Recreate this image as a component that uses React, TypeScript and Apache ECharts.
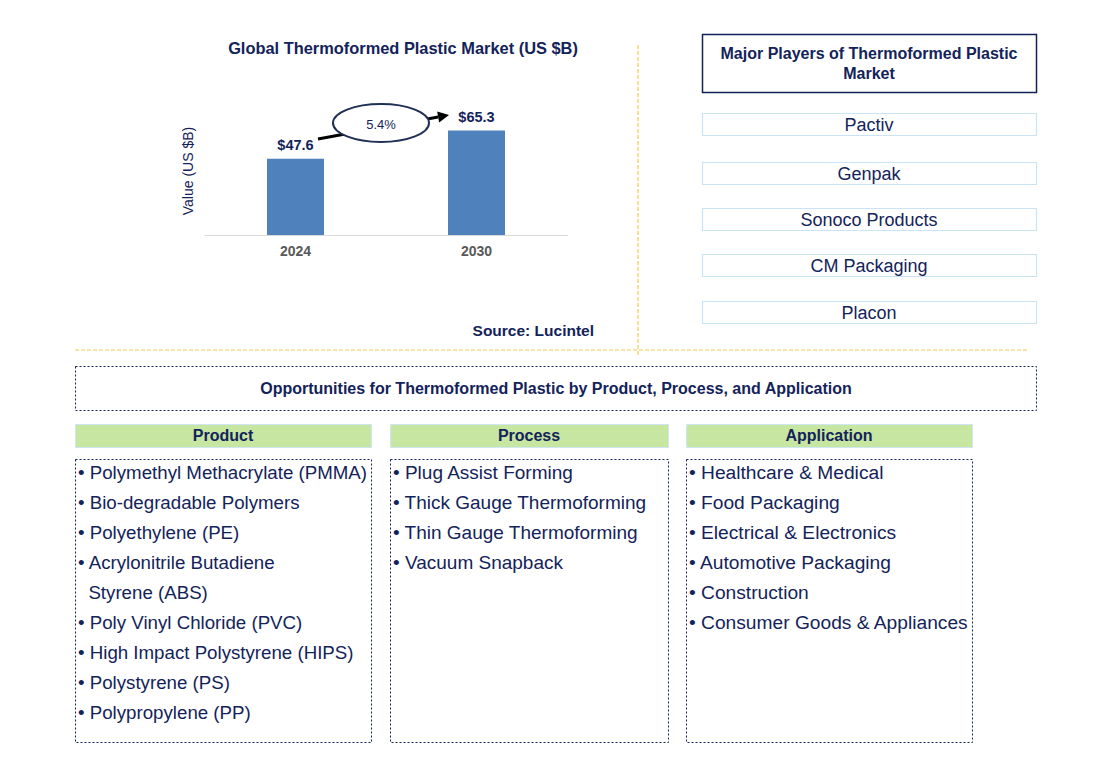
import React, { useEffect, useRef } from "react";
import * as echarts from "echarts";

const years = ["2024", "2030"];
const marketValues = [47.6, 65.3];
const cagrLabel = "5.4%";
const chartTitle = "Global Thermoformed Plastic Market (US $B)";
const yAxisName = "Value (US $B)";
const sourceText = "Source: Lucintel";
const playersTitle = ["Major Players of Thermoformed Plastic", "Market"];
const players = ["Pactiv", "Genpak", "Sonoco Products", "CM Packaging", "Placon"];
const opportunitiesTitle = "Opportunities for Thermoformed Plastic by Product, Process, and Application";
const columnHeaders = ["Product", "Process", "Application"];
const productItems = [
  "• Polymethyl Methacrylate (PMMA)",
  "• Bio-degradable Polymers",
  "• Polyethylene (PE)",
  "• Acrylonitrile Butadiene",
  "  Styrene (ABS)",
  "• Poly Vinyl Chloride (PVC)",
  "• High Impact Polystyrene (HIPS)",
  "• Polystyrene (PS)",
  "• Polypropylene (PP)",
];
const processItems = [
  "• Plug Assist Forming",
  "• Thick Gauge Thermoforming",
  "• Thin Gauge Thermoforming",
  "• Vacuum Snapback",
];
const applicationItems = [
  "• Healthcare & Medical",
  "• Food Packaging",
  "• Electrical & Electronics",
  "• Automotive Packaging",
  "• Construction",
  "• Consumer Goods & Appliances",
];

const NAVY = "#13235a";
const FONT = "Arial, 'Liberation Sans', sans-serif";
const NARROW = "'Liberation Sans Narrow', 'Arial Narrow', Arial, sans-serif";

export default function App() {
  const ref = useRef<HTMLDivElement>(null);
  useEffect(() => {
    if (!ref.current) return;
    const chart = echarts.init(ref.current, undefined, { renderer: "svg" });

    const graphics: any[] = [];
    graphics.push({
      type: "line",
      shape: { x1: 638, y1: 45, x2: 638, y2: 356 },
      style: { stroke: "#f5c02c", lineWidth: 1, lineDash: [4, 2] },
    });
    graphics.push({
      type: "line",
      shape: { x1: 75, y1: 350, x2: 1027, y2: 350 },
      style: { stroke: "#f7c84a", lineWidth: 1, lineDash: [4, 2] },
    });
    const sx = 318, sy = 139, tx = 449, ty = 115;
    const dx = tx - sx, dy = ty - sy;
    const len = Math.sqrt(dx * dx + dy * dy);
    const ux = dx / len, uy = dy / len;
    const bx = tx - ux * 11, by = ty - uy * 11;
    graphics.push({
      type: "line",
      shape: { x1: sx, y1: sy, x2: bx, y2: by },
      style: { stroke: "#000", lineWidth: 3 },
    });
    graphics.push({
      type: "polygon",
      shape: {
        points: [
          [tx, ty],
          [bx - uy * 5.5, by + ux * 5.5],
          [bx + uy * 5.5, by - ux * 5.5],
        ],
      },
      style: { fill: "#000" },
    });
    graphics.push({
      type: "ellipse",
      shape: { cx: 381, cy: 123, rx: 48, ry: 19 },
      style: { fill: "#fff", stroke: "#1f2f55", lineWidth: 2 },
    });
    graphics.push({
      type: "text",
      x: 381,
      y: 124,
      style: { text: cagrLabel, fill: NAVY, font: `13px ${FONT}`, textAlign: "center", textVerticalAlign: "middle" },
    });
    graphics.push({
      type: "text",
      x: 594,
      y: 330,
      style: { text: sourceText, fill: NAVY, font: `bold 15.5px ${FONT}`, textAlign: "right", textVerticalAlign: "middle" },
    });
    graphics.push({
      type: "rect",
      shape: { x: 702.5, y: 34.5, width: 334, height: 58 },
      style: { fill: "#fff", stroke: NAVY, lineWidth: 1.5 },
    });
    graphics.push({
      type: "text",
      x: 869,
      y: 53,
      style: { text: playersTitle[0], fill: NAVY, font: `bold 16px ${FONT}`, textAlign: "center", textVerticalAlign: "middle" },
    });
    graphics.push({
      type: "text",
      x: 869,
      y: 73,
      style: { text: playersTitle[1], fill: NAVY, font: `bold 16px ${FONT}`, textAlign: "center", textVerticalAlign: "middle" },
    });
    const playerY = [113, 162, 208, 254, 301];
    players.forEach((p, i) => {
      graphics.push({
        type: "rect",
        shape: { x: 702.5, y: playerY[i] + 0.5, width: 334, height: 22 },
        style: { fill: "#fff", stroke: "#c8e4f6", lineWidth: 1.2 },
      });
      graphics.push({
        type: "text",
        x: 869,
        y: playerY[i] + 12,
        style: { text: p, fill: NAVY, font: `18px ${FONT}`, textAlign: "center", textVerticalAlign: "middle" },
      });
    });
    graphics.push({
      type: "rect",
      shape: { x: 75.5, y: 366.5, width: 961, height: 44 },
      style: { fill: "#fff", stroke: NAVY, lineWidth: 1, lineDash: [2, 2] },
    });
    graphics.push({
      type: "text",
      x: 556,
      y: 388,
      style: { text: opportunitiesTitle, fill: NAVY, font: `bold 16px ${NARROW}`, textAlign: "center", textVerticalAlign: "middle" },
    });
    const cols = [
      { x: 75, w: 296, items: productItems, fs: 18.7 },
      { x: 390, w: 278, items: processItems, fs: 19 },
      { x: 686, w: 286, items: applicationItems, fs: 19.2 },
    ];
    cols.forEach((c, ci) => {
      graphics.push({
        type: "rect",
        shape: { x: c.x + 0.5, y: 424.5, width: c.w, height: 23 },
        style: { fill: "#c7e6a2", stroke: "#cfe6f3", lineWidth: 1 },
      });
      graphics.push({
        type: "text",
        x: c.x + c.w / 2,
        y: 435.5,
        style: { text: columnHeaders[ci], fill: NAVY, font: `bold 16px ${NARROW}`, textAlign: "center", textVerticalAlign: "middle" },
      });
      graphics.push({
        type: "rect",
        shape: { x: c.x + 0.5, y: 459.5, width: c.w, height: 283 },
        style: { fill: "#fff", stroke: NAVY, lineWidth: 1, lineDash: [2, 2] },
      });
      c.items.forEach((t, i) => {
        graphics.push({
          type: "text",
          x: c.x + 3,
          y: 472 + i * 30,
          style: { text: t, fill: NAVY, font: `${c.fs}px ${FONT}`, textAlign: "left", textVerticalAlign: "middle" },
        });
      });
    });

    chart.setOption({
      animation: false,
      backgroundColor: "#fff",
      title: {
        text: chartTitle,
        left: 398,
        top: 35,
        textAlign: "center",
        textStyle: { color: NAVY, fontFamily: FONT, fontWeight: "bold", fontSize: 16.4 },
      },
      grid: { left: 205, top: 107, width: 362, height: 128 },
      xAxis: {
        type: "category",
        data: years,
        axisTick: { show: false },
        axisLine: { lineStyle: { color: "#d9d9d9", width: 1 } },
        axisLabel: { color: "#595959", fontWeight: "bold", fontSize: 14, fontFamily: FONT, margin: 9 },
      },
      yAxis: {
        type: "value",
        min: 0,
        max: 80,
        axisLine: { show: false },
        axisTick: { show: false },
        axisLabel: { show: false },
        splitLine: { show: false },
        name: yAxisName,
        nameLocation: "middle",
        nameRotate: 90,
        nameGap: 10,
        nameTextStyle: { color: NAVY, fontSize: 14, fontFamily: FONT },
      },
      series: [
        {
          type: "bar",
          data: marketValues,
          barWidth: 57,
          itemStyle: { color: "#4f81bd" },
          label: {
            show: true,
            position: "top",
            distance: 6,
            formatter: (p: any) => "$" + p.value,
            color: NAVY,
            fontWeight: "bold",
            fontSize: 14.5,
            fontFamily: FONT,
          },
        },
      ],
      graphic: { elements: graphics },
    });
    return () => chart.dispose();
  }, []);
  return <div ref={ref} style={{ position: "fixed", left: 0, top: 0, width: 1101, height: 783 }} />;
}
